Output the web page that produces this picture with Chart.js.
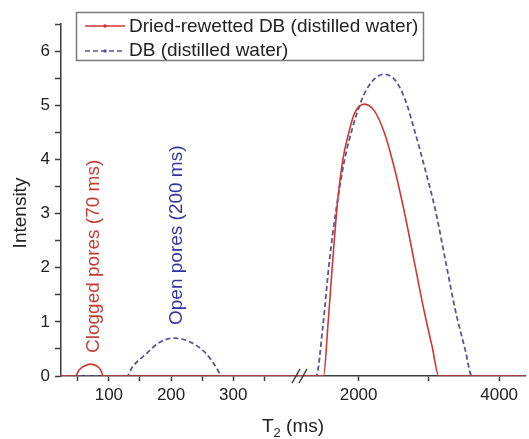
<!DOCTYPE html>
<html>
<head>
<meta charset="utf-8">
<script src="https://cdn.jsdelivr.net/npm/chart.js@4.4.0/dist/chart.umd.min.js"></script>
<style>
body { margin: 0; background: #fff; }
#wrap { width: 529px; height: 439px; }
</style>
</head>
<body>
<div id="wrap"><canvas id="t2Chart"></canvas></div>
<script>
// T2 axis is broken: left part 23..404 ms, right part 1137..4368 ms
const leftRange = [23, 404];
const rightRange = [1137, 4368];
const leftTickVals = [50, 100, 150, 200, 250, 300, 350];
const leftTickLabels = [100, 200, 300];
const rightTickVals = [2000, 3000, 4000];
const rightTickLabels = [2000, 4000];
const yTickLabels = [0, 1, 2, 3, 4, 5, 6];

// Dried-rewetted DB (distilled water)
const rewetLeftT = [23, 46, 52, 60, 70, 80, 87, 91, 404];
const rewetLeftI = [0, 0, 0.11, 0.18, 0.22, 0.19, 0.11, 0, 0];
const rewetRightT = [1137, 1501, 1562, 1632, 1703, 1774, 1844, 1939, 2081, 2222, 2364, 2505, 2646, 2788, 2929, 3047, 3141, 4368];
const rewetRightI = [0, 0, 0.91, 2.14, 3.24, 3.98, 4.41, 4.84, 5.02, 4.90, 4.50, 3.86, 3.06, 2.14, 1.22, 0.54, 0, 0];

// DB (distilled water)
const dbLeftT = [23, 129, 138, 161, 181, 205, 232, 256, 272, 282, 404];
const dbLeftI = [0, 0, 0.17, 0.42, 0.62, 0.70, 0.62, 0.42, 0.17, 0, 0];
const dbRightT = [1137, 1396, 1491, 1586, 1679, 1798, 1915, 2057, 2198, 2364, 2528, 2669, 2810, 2952, 3093, 3235, 3376, 3518, 3612, 4368];
const dbRightI = [0, 0, 0.91, 2.14, 3.06, 3.98, 4.59, 5.14, 5.45, 5.57, 5.45, 5.08, 4.47, 3.79, 3.06, 2.14, 1.22, 0.48, 0, 0];

const redLine = 'rgb(205, 58, 52)';
const blueLine = 'rgb(88, 86, 150)';
const redText = 'rgb(196, 60, 52)';
const blueText = 'rgb(52, 52, 160)';
const axisColor = '#3c3c3c';
const fontFam = '"Liberation Sans", Arial, sans-serif';

Chart.defaults.font.family = fontFam;
Chart.defaults.color = '#222';

function pts(xs, ys) {
    return xs.map((x, i) => ({ x: x, y: ys[i] }));
}

// legend, notes, axis titles and the // break mark
const extras = {
    id: 'extras',
    afterDraw(chart) {
        const ctx = chart.ctx;
        ctx.save();

        // legend box
        ctx.strokeStyle = '#7a7a7a';
        ctx.lineWidth = 1.5;
        ctx.strokeRect(76.5, 12.5, 347, 48);
        ctx.font = '19px ' + fontFam;
        ctx.textBaseline = 'middle';
        ctx.fillStyle = '#222';
        ctx.fillText(chart.data.datasets[0].label, 129, 27);
        ctx.fillText(chart.data.datasets[2].label, 129, 51);
        ctx.lineWidth = 1.6;
        ctx.strokeStyle = redLine;
        ctx.beginPath(); ctx.moveTo(85, 26); ctx.lineTo(125, 26); ctx.stroke();
        ctx.fillStyle = redLine;
        ctx.beginPath(); ctx.arc(105, 26, 1.8, 0, Math.PI * 2); ctx.fill();
        ctx.strokeStyle = blueLine;
        ctx.setLineDash([5, 3]);
        ctx.beginPath(); ctx.moveTo(85, 51); ctx.lineTo(125, 51); ctx.stroke();
        ctx.setLineDash([]);
        ctx.fillStyle = blueLine;
        ctx.beginPath(); ctx.arc(105, 51, 1.8, 0, Math.PI * 2); ctx.fill();

        // rotated notes
        ctx.textBaseline = 'alphabetic';
        ctx.textAlign = 'left';
        ctx.font = '19px ' + fontFam;
        ctx.save();
        ctx.translate(99, 353);
        ctx.rotate(-Math.PI / 2);
        ctx.fillStyle = redText;
        ctx.fillText('Clogged pores (70 ms)', 0, 0);
        ctx.restore();
        ctx.save();
        ctx.translate(182, 325);
        ctx.rotate(-Math.PI / 2);
        ctx.fillStyle = blueText;
        ctx.fillText('Open pores (200 ms)', 0, 0);
        ctx.restore();

        // y title
        ctx.save();
        ctx.translate(26, 213);
        ctx.rotate(-Math.PI / 2);
        ctx.fillStyle = '#222';
        ctx.textAlign = 'center';
        ctx.fillText('Intensity', 0, 0);
        ctx.restore();

        // x title T2 (ms) with subscript
        ctx.fillStyle = '#222';
        ctx.font = '19px ' + fontFam;
        const wT = ctx.measureText('T').width;
        const wRest = ctx.measureText(' (ms)').width;
        ctx.font = '13px ' + fontFam;
        const wSub = ctx.measureText('2').width;
        let x0 = 293 - (wT + wSub + wRest) / 2;
        ctx.font = '19px ' + fontFam;
        ctx.fillText('T', x0, 432);
        ctx.font = '13px ' + fontFam;
        ctx.fillText('2', x0 + wT, 437);
        ctx.font = '19px ' + fontFam;
        ctx.fillText(' (ms)', x0 + wT + wSub, 432);

        // axis break
        ctx.strokeStyle = axisColor;
        ctx.lineWidth = 1.5;
        ctx.beginPath();
        ctx.moveTo(292, 383); ctx.lineTo(300, 369);
        ctx.moveTo(299, 383); ctx.lineTo(307, 369);
        ctx.stroke();

        ctx.restore();
    }
};

// hide tick marks placed only at the axis ends (they keep label padding at 0)
function tickCol(c) {
    const s = c.scale;
    return (c.tick && (c.tick.value === s.min || c.tick.value === s.max)) ? 'rgba(0,0,0,0)' : axisColor;
}

const xCommon = {
    type: 'linear',
    position: 'bottom',
    stack: 't2',
    grid: { drawOnChartArea: false, drawTicks: true, tickLength: 5, tickColor: tickCol, tickWidth: 1.5 },
    border: { display: true, color: axisColor, width: 1.5 },
    afterFit: s => { s.height = 63; }
};

const ctx = document.getElementById('t2Chart').getContext('2d');
const t2Chart = new Chart(ctx, {
    type: 'line',
    data: {
        datasets: [
            { label: 'Dried-rewetted DB (distilled water)', data: pts(rewetLeftT, rewetLeftI), xAxisID: 'xLeft',
              borderColor: redLine, borderWidth: 1.6, pointRadius: 0, cubicInterpolationMode: 'monotone' },
            { label: 'Dried-rewetted DB right', data: pts(rewetRightT, rewetRightI), xAxisID: 'xRight',
              borderColor: redLine, borderWidth: 1.6, pointRadius: 0, cubicInterpolationMode: 'monotone' },
            { label: 'DB (distilled water)', data: pts(dbLeftT, dbLeftI), xAxisID: 'xLeft',
              borderColor: blueLine, borderWidth: 1.8, borderDash: [5, 3], pointRadius: 0, cubicInterpolationMode: 'monotone' },
            { label: 'DB right', data: pts(dbRightT, dbRightI), xAxisID: 'xRight',
              borderColor: blueLine, borderWidth: 1.8, borderDash: [5, 3], pointRadius: 0, cubicInterpolationMode: 'monotone' }
        ]
    },
    options: {
        responsive: true,
        maintainAspectRatio: false,
        animation: false,
        layout: { padding: { top: 24, right: 0, left: 0, bottom: 0 } },
        plugins: { legend: { display: false }, tooltip: { enabled: false } },
        scales: {
            xLeft: Object.assign({}, xCommon, {
                min: leftRange[0], max: leftRange[1], stackWeight: 239,
                afterBuildTicks: s => { s.ticks = [leftRange[0]].concat(leftTickVals, [leftRange[1]]).map(v => ({ value: v })); },
                ticks: { autoSkip: false, maxRotation: 0, padding: 4, font: { size: 17 },
                    callback: v => leftTickLabels.includes(v) ? String(v) : '' }
            }),
            xRight: Object.assign({}, xCommon, {
                min: rightRange[0], max: rightRange[1], stackWeight: 229,
                afterBuildTicks: s => { s.ticks = [rightRange[0]].concat(rightTickVals, [rightRange[1]]).map(v => ({ value: v })); },
                ticks: { autoSkip: false, maxRotation: 0, padding: 4, font: { size: 17 },
                    callback: v => rightTickLabels.includes(v) ? String(v) : '' }
            }),
            y: {
                min: 0, max: 6.5,
                grid: { drawOnChartArea: false, drawTicks: true, tickLength: 6, tickColor: axisColor, tickWidth: 1.5 },
                border: { display: true, color: axisColor, width: 1.5 },
                afterFit: s => { s.width = 61; },
                ticks: { stepSize: 0.5, autoSkip: false, padding: 5, font: { size: 17 },
                    callback: v => yTickLabels.includes(v) ? String(v) : '' }
            }
        }
    },
    plugins: [extras]
});
</script>
</body>
</html>
